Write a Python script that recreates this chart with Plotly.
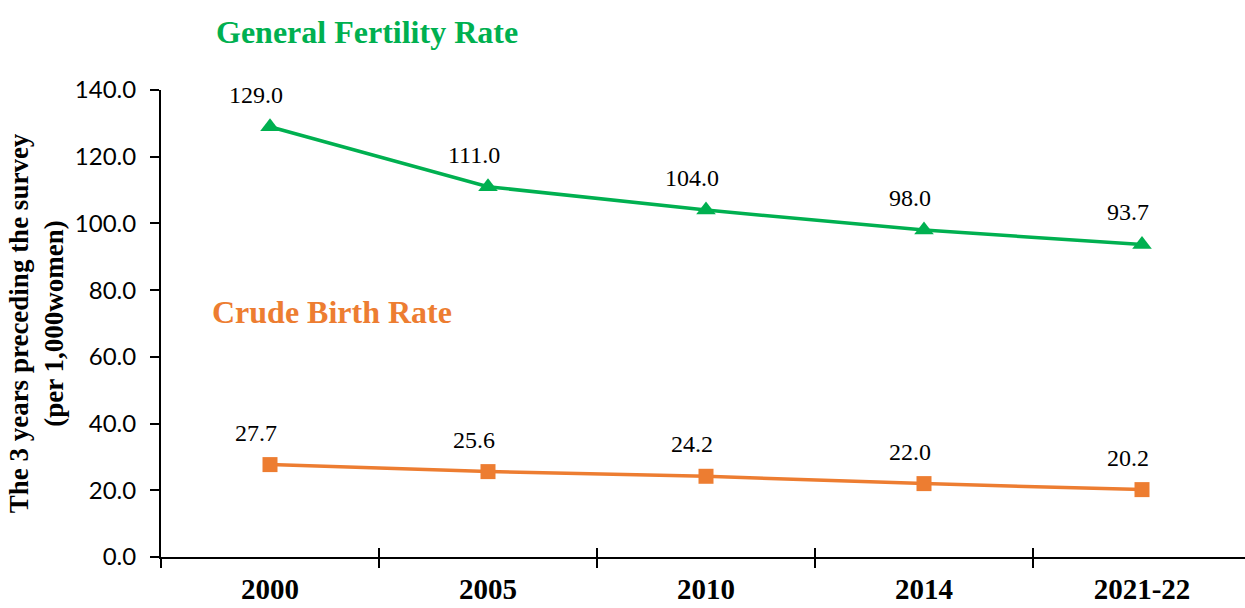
import plotly.graph_objects as go

categories = ["2000", "2005", "2010", "2014", "2021-22"]
gfr_values = [129.0, 111.0, 104.0, 98.0, 93.7]
cbr_values = [27.7, 25.6, 24.2, 22.0, 20.2]
y_tick_values = [0, 20, 40, 60, 80, 100, 120, 140]
y_tick_labels = ["0.0", "20.0", "40.0", "60.0", "80.0", "100.0", "120.0", "140.0"]

GREEN = "#00B050"
ORANGE = "#ED7D31"
SERIF = "Liberation Serif, Times New Roman, serif"
SANS = "Lato, Calibri, sans-serif"

fig = go.Figure()

fig.add_trace(go.Scatter(
    x=categories, y=gfr_values, mode="lines+markers",
    line=dict(color=GREEN, width=3.5),
    marker=dict(symbol="triangle-up", size=17, color=GREEN),
    showlegend=False, hoverinfo="x+y",
))
fig.add_trace(go.Scatter(
    x=categories, y=cbr_values, mode="lines+markers",
    line=dict(color=ORANGE, width=3.5),
    marker=dict(symbol="square", size=15, color=ORANGE),
    showlegend=False, hoverinfo="x+y",
))
# invisible trace for the overlay axis that draws the inner half of the x ticks
fig.add_trace(go.Scatter(
    x=categories, y=cbr_values, xaxis="x2", mode="markers",
    marker=dict(opacity=0), showlegend=False, hoverinfo="skip",
))

annotations = []
for series in (gfr_values, cbr_values):
    for i, v in enumerate(series):
        annotations.append(dict(
            x=i, y=v, xref="x", yref="y", text=f"{v:.1f}", showarrow=False,
            xshift=-14, yshift=32,
            font=dict(family=SERIF, size=24, color="black"),
        ))

titles = [
    dict(text="<b>General Fertility Rate</b>", px=367, py=32, color=GREEN),
    dict(text="<b>Crude Birth Rate</b>", px=332, py=312, color=ORANGE),
]

W, H = 1245, 608
L, R, T, B = 161, 0, 90, 51
pw, ph = W - L - R, H - T - B
for t in titles:
    annotations.append(dict(
        text=t["text"], xref="paper", yref="paper",
        x=(t["px"] - L) / pw, y=1 - (t["py"] - T) / ph,
        xanchor="center", yanchor="middle", showarrow=False,
        font=dict(family=SERIF, size=32, color=t["color"]),
    ))

xrange = [-0.5, -0.5 + pw / 218.0]

fig.update_layout(
    width=W, height=H,
    margin=dict(l=L, r=R, t=T, b=B, pad=0, autoexpand=False),
    paper_bgcolor="white", plot_bgcolor="white",
    annotations=annotations,
    xaxis=dict(
        type="category", range=xrange, tickson="boundaries",
        ticks="outside", ticklen=9, tickwidth=2, tickcolor="black",
        showline=True, linecolor="black", linewidth=2,
        showgrid=False, zeroline=False, automargin=False,
        tickfont=dict(family=SERIF, size=29, color="black", weight="bold"),
        ticklabelstandoff=5,
    ),
    xaxis2=dict(
        type="category", range=xrange, overlaying="x", tickson="boundaries",
        ticks="inside", ticklen=9, tickwidth=2, tickcolor="black",
        showticklabels=False, showline=False, showgrid=False, zeroline=False,
        anchor="y", automargin=False,
    ),
    yaxis=dict(
        range=[0, 140], tickvals=y_tick_values, ticktext=y_tick_labels,
        ticks="outside", ticklen=9, tickwidth=2, tickcolor="black",
        showline=True, linecolor="black", linewidth=2,
        showgrid=False, zeroline=False, automargin=False,
        tickfont=dict(family=SANS, size=24, color="black"),
        ticklabelstandoff=9,
        title=dict(
            text="<b>The 3 years preceding the survey<br>(per 1,000women)</b>",
            font=dict(family=SERIF, size=27, color="black"),
            standoff=3,
        ),
    ),
)

fig.write_html(
    "out.html",
    config={"displayModeBar": False},
    post_script="document.body.style.margin='0';document.body.style.overflow='hidden';",
)
